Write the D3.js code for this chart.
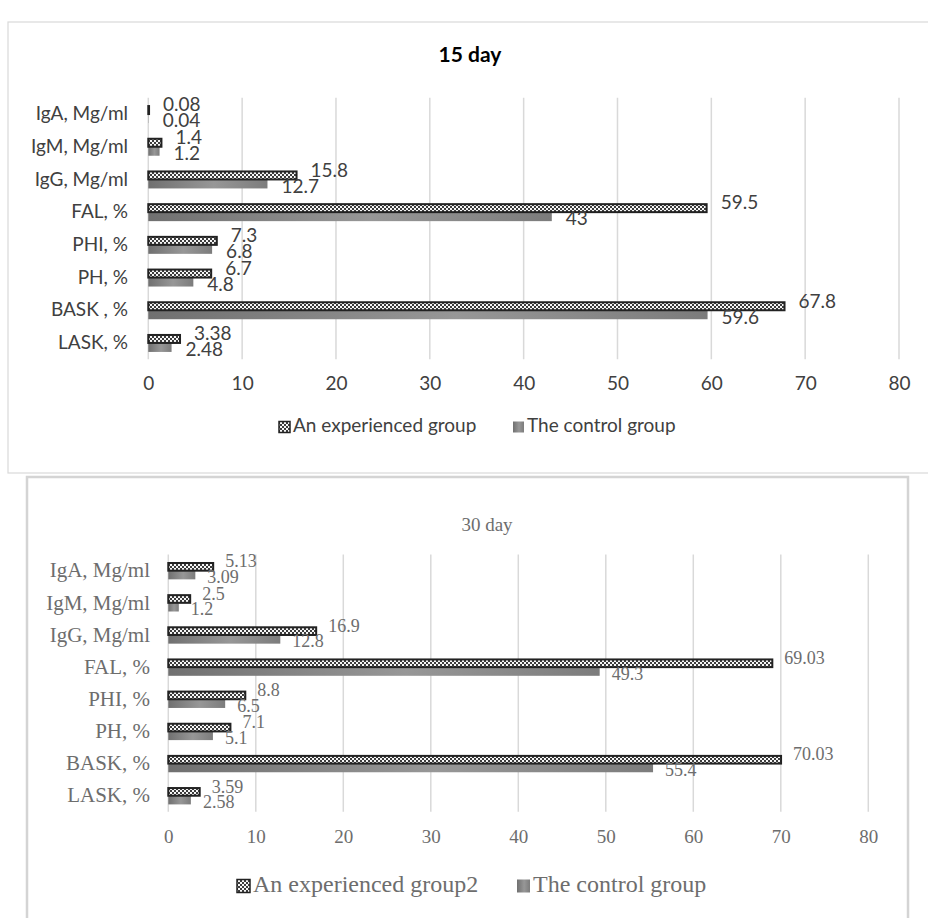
<!DOCTYPE html>
<html>
<head>
<meta charset="utf-8">
<script src="https://cdn.jsdelivr.net/npm/d3@7"></script>
<style>
  body { margin: 0; background: #fff; }
</style>
</head>
<body>
<svg id="chart" width="928" height="918"></svg>
<script>
// Indicator names, top to bottom
const categories15 = ["IgA, Mg/ml", "IgM, Mg/ml", "IgG, Mg/ml", "FAL, %", "PHI, %", "PH, %", "BASK , %", "LASK, %"];
const categories30 = ["IgA, Mg/ml", "IgM, Mg/ml", "IgG, Mg/ml", "FAL, %", "PHI, %", "PH, %", "BASK, %", "LASK, %"];

// Day 15 values
const experienced15 = [0.08, 1.4, 15.8, 59.5, 7.3, 6.7, 67.8, 3.38];
const control15 = [0.04, 1.2, 12.7, 43, 6.8, 4.8, 59.6, 2.48];

// Day 30 values
const experienced30 = [5.13, 2.5, 16.9, 69.03, 8.8, 7.1, 70.03, 3.59];
const control30 = [3.09, 1.2, 12.8, 49.3, 6.5, 5.1, 55.4, 2.58];

const xTicks = [0, 10, 20, 30, 40, 50, 60, 70, 80];
const seriesNames15 = ["An experienced group", "The control group"];
const seriesNames30 = ["An experienced group2", "The control group"];
const titles = ["15 day", "30 day"];

const svg = d3.select("#chart");
const defs = svg.append("defs");

// Checkerboard fill for the experienced group
function checker(id) {
  const p = defs.append("pattern").attr("id", id)
    .attr("patternUnits", "userSpaceOnUse").attr("width", 4).attr("height", 4);
  p.append("rect").attr("width", 4).attr("height", 4).attr("fill", "#f6f6f6");
  p.append("rect").attr("x", 0).attr("y", 0).attr("width", 2).attr("height", 2).attr("fill", "#3c3c3c");
  p.append("rect").attr("x", 2).attr("y", 2).attr("width", 2).attr("height", 2).attr("fill", "#3c3c3c");
}
checker("chk");

// Soft grey shading for the control group
const grad = defs.append("linearGradient").attr("id", "ctl").attr("x1", 0).attr("x2", 1).attr("y1", 0).attr("y2", 0);
grad.append("stop").attr("offset", 0).attr("stop-color", "#707070");
grad.append("stop").attr("offset", 0.55).attr("stop-color", "#979797");
grad.append("stop").attr("offset", 1).attr("stop-color", "#7c7c7c");

function panel(cfg) {
  const g = svg.append("g");

  // frame
  g.append("rect")
    .attr("x", cfg.frame[0]).attr("y", cfg.frame[1])
    .attr("width", cfg.frame[2]).attr("height", cfg.frame[3])
    .attr("fill", "#fff").attr("stroke", cfg.frameColor).attr("stroke-width", cfg.frameWidth);

  const x = d3.scaleLinear().domain([0, 80]).range([cfg.left, cfg.right]);
  const y = d3.scaleBand().domain(cfg.categories).range([cfg.top, cfg.bottom]).paddingInner(cfg.pad).paddingOuter(cfg.pad / 2);
  const ys = d3.scaleBand().domain([0, 1]).range([0, y.bandwidth()]);

  // title
  g.append("text").attr("x", cfg.titleX).attr("y", cfg.titleY)
    .attr("text-anchor", "middle").attr("dominant-baseline", "middle")
    .attr("font-family", cfg.font).attr("font-size", cfg.titleSize)
    .attr("font-weight", cfg.titleWeight).attr("fill", cfg.titleColor)
    .text(cfg.title);

  // vertical gridlines
  g.append("g").selectAll("line").data(xTicks).join("line")
    .attr("x1", d => x(d)).attr("x2", d => x(d))
    .attr("y1", cfg.top).attr("y2", cfg.bottom)
    .attr("stroke", "#d9d9d9").attr("stroke-width", 1.5);

  // value axis labels
  const xAxis = d3.axisBottom(x).tickValues(xTicks).tickSize(0).tickPadding(0);
  const ax = g.append("g").attr("transform", `translate(0,${cfg.tickY})`).call(xAxis);
  ax.select(".domain").remove();
  ax.selectAll("text").attr("font-family", cfg.font).attr("font-size", cfg.tickSize)
    .attr("fill", cfg.textColor).attr("dy", "0.35em").attr("y", 0);

  // category axis labels
  const yAxis = d3.axisLeft(y).tickSize(0).tickPadding(0);
  const ay = g.append("g").attr("transform", `translate(${cfg.catX},0)`).call(yAxis);
  ay.select(".domain").remove();
  ay.selectAll("text").attr("font-family", cfg.font).attr("font-size", cfg.catSize)
    .attr("fill", cfg.textColor).attr("x", 0);

  const rows = cfg.categories.map((c, i) => ({ c, e: cfg.exp[i], k: cfg.ctl[i] }));

  const bars = g.append("g");
  // control bars (lower of each pair)
  bars.selectAll("rect.ctl").data(rows).join("rect").attr("class", "ctl")
    .attr("x", x(0)).attr("y", d => y(d.c) + ys(1))
    .attr("width", d => x(d.k) - x(0)).attr("height", ys.bandwidth())
    .attr("fill", "url(#ctl)");
  // experienced bars (upper of each pair)
  bars.selectAll("rect.exp").data(rows).join("rect").attr("class", "exp")
    .attr("x", x(0)).attr("y", d => y(d.c) + ys(0) + 1)
    .attr("width", d => Math.max(0, x(d.e) - x(0))).attr("height", ys.bandwidth() - 1)
    .attr("fill", "url(#chk)").attr("stroke", "#222").attr("stroke-width", 2);

  // data labels
  const lab = g.append("g").attr("font-family", cfg.font).attr("font-size", cfg.valSize).attr("fill", cfg.textColor);
  lab.selectAll("text.e").data(rows).join("text").attr("class", "e")
    .attr("x", d => x(d.e) + cfg.labelGap)
    .attr("y", d => y(d.c) + ys(0) + ys.bandwidth() / 2 + cfg.dyExp)
    .attr("dominant-baseline", "middle")
    .text(d => String(d.e));
  lab.selectAll("text.k").data(rows).join("text").attr("class", "k")
    .attr("x", d => x(d.k) + cfg.labelGap)
    .attr("y", d => y(d.c) + ys(1) + ys.bandwidth() / 2 + cfg.dyCtl)
    .attr("dominant-baseline", "middle")
    .text(d => String(d.k));

  // legend
  const leg = g.append("g").attr("font-family", cfg.font).attr("font-size", cfg.legSize).attr("fill", cfg.textColor);
  cfg.series.forEach((name, i) => {
    const lx = cfg.legendX[i];
    leg.append("rect").attr("x", lx).attr("y", cfg.legendY - cfg.sw / 2)
      .attr("width", cfg.sw).attr("height", cfg.sw)
      .attr("fill", i === 0 ? "url(#chk)" : "url(#ctl)")
      .attr("stroke", i === 0 ? "#222" : "none").attr("stroke-width", 1.5);
    leg.append("text").attr("x", lx + cfg.sw + 3).attr("y", cfg.legendY)
      .attr("dominant-baseline", "middle").text(name);
  });
}

// Day 15 panel
panel({
  frame: [8, 22, 940, 451], frameColor: "#d9d9d9", frameWidth: 1.2,
  categories: categories15, exp: experienced15, ctl: control15, series: seriesNames15,
  title: titles[0], titleX: 470, titleY: 57, titleSize: 21, titleWeight: "bold", titleColor: "#000",
  left: 148.3, right: 899, top: 97.7, bottom: 359.3, pad: 0.45,
  font: "Lato, 'Noto Sans', sans-serif", textColor: "#404040",
  tickY: 383, tickSize: 19, catX: 128, catSize: 19, valSize: 19,
  labelGap: 14, dyExp: -3, dyCtl: 4,
  legendX: [279, 513], legendY: 427, legSize: 19, sw: 11
});

// Day 30 panel
panel({
  frame: [27, 477, 881, 460], frameColor: "#d4d4d4", frameWidth: 2.5,
  categories: categories30, exp: experienced30, ctl: control30, series: seriesNames30,
  title: titles[1], titleX: 487, titleY: 527, titleSize: 19, titleWeight: "normal", titleColor: "#6d6d6d",
  left: 168.3, right: 868.3, top: 554.6, bottom: 811.8, pad: 0.46,
  font: "'Liberation Serif', 'Times New Roman', serif", textColor: "#6d6d6d",
  tickY: 836, tickSize: 19, catX: 150, catSize: 21, valSize: 18,
  labelGap: 12, dyExp: -3, dyCtl: 4,
  legendX: [237, 517], legendY: 886, legSize: 24, sw: 13
});
</script>
</body>
</html>
